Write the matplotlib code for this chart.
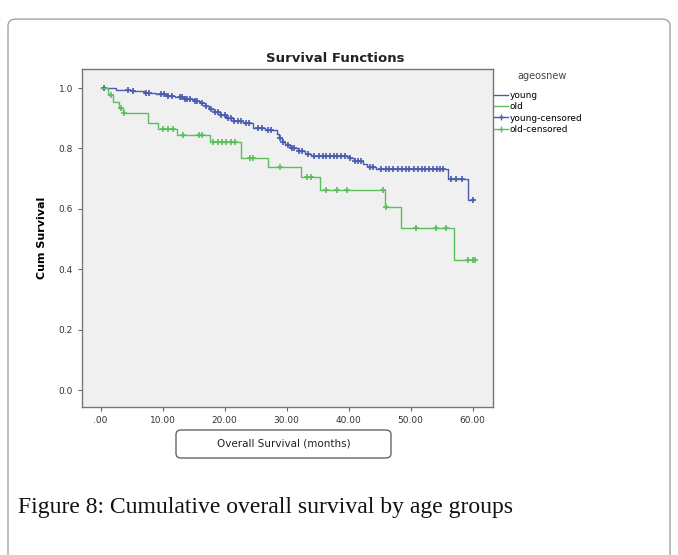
import numpy as np
import matplotlib
matplotlib.use('Agg')
from matplotlib import pyplot as plt
from matplotlib.patches import FancyBboxPatch
from matplotlib.lines import Line2D

# survival steps (months, cum survival)
young_t = [0.0, 2.5, 5.0, 7.0, 9.0, 10.5, 12.0, 13.5, 15.0, 16.0, 16.8, 17.5,
           18.3, 19.2, 20.2, 21.3, 23.0, 24.6, 26.5, 28.4, 28.8, 29.3, 29.8,
           30.5, 31.8, 33.0, 34.0, 40.0, 40.8, 42.3, 43.0, 44.5, 56.0, 59.3]
young_s = [1.0, 0.995, 0.99, 0.985, 0.98, 0.975, 0.97, 0.965, 0.958, 0.95,
           0.94, 0.93, 0.92, 0.91, 0.90, 0.892, 0.885, 0.868, 0.862, 0.848,
           0.835, 0.822, 0.81, 0.80, 0.792, 0.782, 0.776, 0.768, 0.758, 0.75,
           0.74, 0.732, 0.70, 0.63]
young_end = 60.0
young_cens = [0.5, 4.5, 5.2, 7.3, 7.8, 9.8, 10.2, 10.8, 11.5, 12.8, 13.2, 13.6,
              14.0, 14.4, 15.2, 15.6, 16.3, 17.0, 17.8, 18.5, 19.0, 19.5, 20.0,
              20.5, 21.0, 21.5, 22.2, 22.6, 23.5, 24.0, 25.4, 26.0, 27.0, 27.5,
              29.0, 29.5, 30.2, 30.8, 31.2, 32.0, 32.5, 33.5, 34.5, 35.2, 35.8,
              36.4, 37.0, 37.6, 38.2, 38.8, 39.4, 40.3, 41.0, 41.6, 42.0, 43.5,
              44.0, 45.3, 46.0, 46.6, 47.2, 48.0, 48.6, 49.2, 49.8, 50.5, 51.2,
              51.8, 52.3, 53.0, 53.6, 54.2, 54.8, 55.3, 56.5, 57.3, 58.3, 60.0]

old_t = [0.0, 1.2, 2.0, 3.0, 3.6, 7.6, 9.2, 12.3, 17.7, 22.6, 27.0, 32.3,
         35.4, 45.9, 48.5, 57.0]
old_s = [1.0, 0.977, 0.955, 0.935, 0.917, 0.884, 0.864, 0.844, 0.822, 0.768,
         0.737, 0.704, 0.664, 0.605, 0.535, 0.43]
old_end = 60.4
old_cens = [1.7, 3.3, 3.8, 10.1, 10.9, 11.6, 13.3, 15.9, 16.4, 18.1, 18.9,
            19.6, 20.3, 21.0, 21.7, 24.1, 24.6, 28.9, 33.3, 33.9, 36.4, 38.2,
            39.8, 45.5, 46.0, 50.9, 54.1, 55.7, 59.3, 60.0, 60.4]

xticks = [0, 10, 20, 30, 40, 50, 60]
xlabels = ['.00', '10.00', '20.00', '30.00', '40.00', '50.00', '60.00']
yticks = [0.0, 0.2, 0.4, 0.6, 0.8, 1.0]
ylabels = ['0.0', '0.2', '0.4', '0.6', '0.8', '1.0']

blue = '#4a5cb0'
green = '#5cbf5c'

fig = plt.figure(figsize=(6.78, 5.55), dpi=100)
W, H = 678, 555

# outer rounded frame
fig.patches.append(FancyBboxPatch((8 / W, -0.05), 662 / W, 1.03 - 8 / H,
                                  boxstyle='round,pad=0,rounding_size=0.012',
                                  transform=fig.transFigure, fill=False,
                                  ec='#9a9a9a', lw=0.9))

ax = fig.add_axes([82 / W, 1 - 407 / H, 411 / W, 338 / H])
ax.set_facecolor('#f0f0f0')


def step_curve(t, s, end):
    x = list(t) + [end]
    y = list(s) + [s[-1]]
    return x, y


def level_at(t, s, c):
    idx = np.searchsorted(t, c, side='right') - 1
    return np.array(s)[idx]


for t, s, end, cens, col in [(young_t, young_s, young_end, young_cens, blue),
                             (old_t, old_s, old_end, old_cens, green)]:
    x, y = step_curve(t, s, end)
    ax.step(x, y, where='post', color=col, lw=1.0)
    ax.plot(cens, level_at(t, s, cens), ls='none', marker='+', ms=5,
            mew=1.2, color=col)

ax.set_xlim(-3.0, 63.3)
ax.set_ylim(-0.056, 1.063)
ax.set_xticks(xticks)
ax.set_xticklabels(xlabels)
ax.set_yticks(yticks)
ax.set_yticklabels(ylabels)
ax.tick_params(labelsize=6.5, labelcolor='#333333', color='#666666',
               length=3, direction='out')
for sp in ax.spines.values():
    sp.set_color('#777777')
    sp.set_linewidth(1.0)

ax.set_ylabel('Cum Survival', fontsize=8, fontweight='bold', labelpad=8)

fig.text(335 / W, 1 - 58 / H, 'Survival Functions', ha='center', va='center',
         fontsize=9.5, fontweight='bold', color='#222222')

# x label in rounded box
fig.patches.append(FancyBboxPatch((176 / W, 1 - 458 / H), 215 / W, 28 / H,
                                  boxstyle='round,pad=0,rounding_size=0.008',
                                  transform=fig.transFigure, fill=False,
                                  ec='#666666', lw=1.0))
fig.text(283.5 / W, 1 - 444 / H, 'Overall Survival (months)', ha='center',
         va='center', fontsize=7.5, color='#222222')

# legend: title placed above, entries below
fig.text(542 / W, 1 - 76 / H, 'ageosnew', ha='center', va='center',
         fontsize=7, color='#444444')
handles = [Line2D([], [], color=blue, lw=1),
           Line2D([], [], color=green, lw=1),
           Line2D([], [], color=blue, lw=1, marker='+', ms=5),
           Line2D([], [], color=green, lw=1, marker='+', ms=5)]
leg = fig.legend(handles, ['young', 'old', 'young-censored', 'old-censored'],
                 loc='upper left', bbox_to_anchor=(494 / W, 1 - 91 / H),
                 frameon=False, fontsize=6.5, handlelength=1.6,
                 handletextpad=0.1, labelspacing=0.25, borderaxespad=0,
                 borderpad=0)

fig.text(18 / W, 1 - 508 / H, 'Figure 8: Cumulative overall survival by age groups',
         ha='left', va='center', fontsize=17, family='Liberation Serif',
         color='#111111')

fig.savefig('out.png', dpi=100)
